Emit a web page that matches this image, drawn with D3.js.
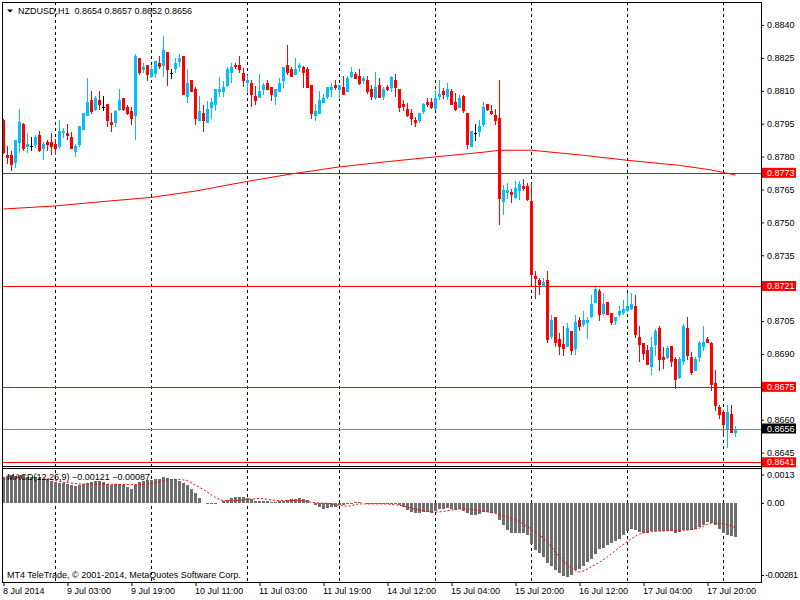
<!DOCTYPE html>
<html>
<head>
<meta charset="utf-8">
<script src="https://cdn.jsdelivr.net/npm/d3@7"></script>
<style>
  body { margin: 0; background: #fff; }
  text { font-family: "Liberation Sans", Arial, sans-serif; font-size: 9px; }
</style>
</head>
<body>
<svg width="800" height="600"></svg>
<script>
// NZDUSD H1, 8 Jul 2014 11:00 .. 18 Jul 2014 03:00
const opens = [
  0.87967,0.87807,0.87807,0.87772,0.87863,0.87949,0.87845,0.87848,0.87854,0.87898,
  0.87836,0.87866,0.87866,0.87857,0.87842,0.87906,0.87906,0.87891,0.87822,0.87851,
  0.87921,0.87985,0.88058,0.88012,0.88058,0.88025,0.88040,0.87959,0.87954,0.88012,
  0.88067,0.88025,0.88009,0.87985,0.88250,0.88195,0.88219,0.88164,0.88177,0.88228,
  0.88213,0.88277,0.88183,0.88198,0.88231,0.88259,0.88073,0.88149,0.88107,0.87964,
  0.88000,0.87954,0.88022,0.88037,0.88094,0.88094,0.88122,0.88183,0.88219,0.88219,
  0.88183,0.88134,0.88137,0.88076,0.88065,0.88102,0.88136,0.88117,0.88072,0.88096,
  0.88145,0.88218,0.88199,0.88172,0.88203,0.88208,0.88199,0.88126,0.87986,0.87996,
  0.88044,0.88072,0.88105,0.88126,0.88105,0.88117,0.88096,0.88163,0.88175,0.88166,
  0.88145,0.88148,0.88108,0.88066,0.88126,0.88072,0.88116,0.88113,0.88149,0.88110,
  0.88040,0.88018,0.88000,0.87967,0.87964,0.88003,0.88049,0.88049,0.88016,0.88070,
  0.88098,0.88073,0.88100,0.88049,0.88022,0.88076,0.88000,0.87845,0.87906,0.87912,
  0.87945,0.88040,0.88009,0.87991,0.87976,0.87593,0.87635,0.87639,0.87610,0.87644,
  0.87666,0.87666,0.87599,0.87255,0.87237,0.87204,0.87237,0.86976,0.87070,0.86970,
  0.86945,0.86933,0.87003,0.86924,0.87055,0.87033,0.87043,0.87067,0.87134,0.87188,
  0.87082,0.87137,0.87085,0.87052,0.87076,0.87085,0.87094,0.87104,0.87119,0.86976,
  0.86951,0.86918,0.86842,0.86942,0.87018,0.86887,0.86882,0.86936,0.86878,0.86790,
  0.86863,0.87018,0.86887,0.86824,0.86882,0.86933,0.86967,0.86949,0.86766,0.86659,
  0.86635,0.86559,0.86626,0.86540
];
const highs = [
  0.87971,0.87848,0.87827,0.87876,0.88017,0.87954,0.87906,0.87888,0.87900,0.87918,
  0.87868,0.87876,0.87906,0.87879,0.87967,0.87930,0.87949,0.87912,0.87857,0.87939,
  0.88000,0.88158,0.88098,0.88076,0.88098,0.88076,0.88040,0.87997,0.88012,0.88107,
  0.88067,0.88034,0.88025,0.88268,0.88250,0.88225,0.88219,0.88213,0.88237,0.88259,
  0.88350,0.88277,0.88198,0.88250,0.88268,0.88259,0.88198,0.88149,0.88119,0.88076,
  0.88037,0.88055,0.88067,0.88107,0.88164,0.88143,0.88210,0.88228,0.88228,0.88259,
  0.88204,0.88173,0.88149,0.88122,0.88177,0.88136,0.88148,0.88117,0.88108,0.88160,
  0.88208,0.88309,0.88208,0.88251,0.88227,0.88214,0.88208,0.88126,0.88038,0.88099,
  0.88084,0.88117,0.88136,0.88148,0.88126,0.88166,0.88166,0.88208,0.88184,0.88199,
  0.88169,0.88166,0.88126,0.88187,0.88160,0.88117,0.88125,0.88167,0.88177,0.88110,
  0.88058,0.88043,0.88018,0.87979,0.88000,0.88043,0.88067,0.88067,0.88104,0.88149,
  0.88113,0.88134,0.88107,0.88091,0.88082,0.88082,0.88000,0.87915,0.87949,0.87967,
  0.88049,0.88040,0.88037,0.88018,0.88149,0.87672,0.87678,0.87654,0.87690,0.87690,
  0.87696,0.87678,0.87678,0.87277,0.87246,0.87246,0.87280,0.87079,0.87070,0.86994,
  0.87027,0.87043,0.87003,0.87079,0.87070,0.87094,0.87067,0.87170,0.87207,0.87198,
  0.87177,0.87137,0.87085,0.87067,0.87119,0.87146,0.87177,0.87179,0.87167,0.87027,
  0.86951,0.86942,0.86976,0.87015,0.87027,0.86933,0.86936,0.86936,0.86887,0.86887,
  0.87037,0.87070,0.86909,0.86887,0.86958,0.87027,0.86979,0.86955,0.86827,0.86669,
  0.86644,0.86669,0.86669,0.86570
];
const lows = [
  0.87812,0.87766,0.87736,0.87748,0.87815,0.87824,0.87815,0.87824,0.87838,0.87821,
  0.87784,0.87824,0.87806,0.87809,0.87833,0.87885,0.87876,0.87835,0.87797,0.87842,
  0.87921,0.87985,0.87994,0.88007,0.88012,0.88007,0.87936,0.87913,0.87936,0.88009,
  0.88009,0.87988,0.87945,0.87876,0.88173,0.88180,0.88146,0.88157,0.88157,0.88201,
  0.88164,0.88122,0.88155,0.88183,0.88210,0.88082,0.88046,0.88094,0.87945,0.87964,
  0.87912,0.87954,0.87973,0.88007,0.88073,0.88073,0.88116,0.88134,0.88201,0.88180,
  0.88119,0.88091,0.88025,0.88034,0.88065,0.88081,0.88102,0.88053,0.88035,0.88093,
  0.88114,0.88172,0.88163,0.88172,0.88184,0.88111,0.88114,0.87971,0.87962,0.87996,
  0.88044,0.88063,0.88072,0.88102,0.88063,0.88081,0.88096,0.88157,0.88154,0.88126,
  0.88132,0.88084,0.88057,0.88057,0.88066,0.88057,0.88100,0.88094,0.88073,0.88003,
  0.88007,0.87982,0.87945,0.87936,0.87954,0.87994,0.88027,0.88016,0.88012,0.88058,
  0.88064,0.88058,0.88037,0.88007,0.88022,0.87997,0.87836,0.87845,0.87872,0.87891,
  0.87936,0.88007,0.87991,0.87945,0.87487,0.87535,0.87608,0.87587,0.87605,0.87602,
  0.87644,0.87596,0.87213,0.87152,0.87167,0.87204,0.86951,0.86967,0.86933,0.86894,
  0.86891,0.86933,0.86894,0.86894,0.87003,0.87024,0.86967,0.87064,0.87134,0.87052,
  0.87073,0.87076,0.87033,0.87033,0.87070,0.87076,0.87091,0.87100,0.86973,0.86863,
  0.86872,0.86848,0.86805,0.86891,0.86824,0.86833,0.86876,0.86842,0.86742,0.86787,
  0.86848,0.86872,0.86803,0.86821,0.86863,0.86915,0.86949,0.86732,0.86641,0.86605,
  0.86520,0.86471,0.86538,0.86520
];
const closes = [
  0.87815,0.87794,0.87763,0.87876,0.87958,0.87836,0.87857,0.87848,0.87888,0.87824,
  0.87857,0.87854,0.87845,0.87836,0.87918,0.87918,0.87894,0.87836,0.87848,0.87939,
  0.87997,0.88049,0.88003,0.88067,0.88035,0.88025,0.87964,0.87945,0.88007,0.88058,
  0.88012,0.87994,0.87973,0.88259,0.88183,0.88210,0.88173,0.88201,0.88237,0.88207,
  0.88286,0.88195,0.88183,0.88228,0.88250,0.88082,0.88134,0.88094,0.87973,0.88009,
  0.87964,0.88018,0.88049,0.88107,0.88107,0.88116,0.88201,0.88210,0.88207,0.88195,
  0.88146,0.88149,0.88082,0.88055,0.88101,0.88126,0.88105,0.88081,0.88108,0.88136,
  0.88208,0.88181,0.88163,0.88199,0.88218,0.88181,0.88114,0.87996,0.88008,0.88057,
  0.88066,0.88117,0.88117,0.88111,0.88126,0.88081,0.88157,0.88184,0.88154,0.88132,
  0.88160,0.88096,0.88072,0.88117,0.88066,0.88108,0.88104,0.88162,0.88113,0.88022,
  0.88025,0.87985,0.87970,0.87954,0.87997,0.88040,0.88037,0.88022,0.88067,0.88085,
  0.88082,0.88110,0.88037,0.88012,0.88067,0.88007,0.87854,0.87915,0.87906,0.87939,
  0.88027,0.88012,0.87994,0.87961,0.87605,0.87648,0.87648,0.87626,0.87657,0.87675,
  0.87654,0.87602,0.87261,0.87243,0.87216,0.87228,0.86964,0.87055,0.86951,0.86933,
  0.86924,0.87018,0.86915,0.87046,0.87024,0.87055,0.87055,0.87128,0.87198,0.87076,
  0.87128,0.87076,0.87043,0.87067,0.87094,0.87104,0.87119,0.87128,0.86986,0.86942,
  0.86900,0.86851,0.86933,0.87003,0.86872,0.86872,0.86927,0.86863,0.86781,0.86878,
  0.87027,0.86891,0.86815,0.86876,0.86949,0.86955,0.86951,0.86757,0.86663,0.86623,
  0.86575,0.86635,0.86541,0.86560
];

// moving average, read at some bars
const maBars = [0,13,23,37,48,61,72,84,96,108,120,124,132,145,156,169,177,183];
const maValues = [0.87561,0.87575,0.87592,0.87614,0.87643,0.87687,0.87721,0.87753,0.87777,
  0.87799,0.87820,0.87829,0.87829,0.87806,0.87783,0.87760,0.87739,0.87716];

// MACD(12,26,9) main (histogram)
const macdMain = [
  0.00093,0.00098,0.00100,0.00098,0.00102,0.00100,0.00095,0.00093,0.00093,0.00091,
  0.00088,0.00086,0.00081,0.00076,0.00074,0.00074,0.00071,0.00067,0.00062,0.00064,
  0.00069,0.00074,0.00076,0.00079,0.00079,0.00076,0.00071,0.00067,0.00069,0.00071,
  0.00067,0.00060,0.00052,0.00064,0.00076,0.00081,0.00083,0.00083,0.00086,0.00088,
  0.00093,0.00091,0.00088,0.00086,0.00081,0.00074,0.00064,0.00050,0.00036,0.00019,
  0.00002,-0.00001,-0.00002,-0.00001,0.00002,0.00007,0.00012,0.00019,0.00024,0.00024,
  0.00024,0.00019,0.00014,0.00010,0.00007,0.00007,0.00007,0.00005,0.00005,0.00007,
  0.00010,0.00012,0.00014,0.00017,0.00019,0.00017,0.00012,0.00002,-0.00007,-0.00014,
  -0.00019,-0.00017,-0.00014,-0.00012,-0.00007,-0.00005,-0.00002,0.00000,0.00005,0.00005,
  0.00002,0.00000,-0.00002,0.00000,-0.00002,-0.00002,-0.00002,-0.00002,-0.00002,-0.00005,
  -0.00012,-0.00024,-0.00031,-0.00036,-0.00036,-0.00031,-0.00031,-0.00033,-0.00029,-0.00021,
  -0.00019,-0.00017,-0.00019,-0.00024,-0.00021,-0.00026,-0.00036,-0.00043,-0.00043,-0.00038,
  -0.00031,-0.00031,-0.00033,-0.00036,-0.00060,-0.00079,-0.00095,-0.00105,-0.00107,-0.00107,
  -0.00107,-0.00114,-0.00145,-0.00167,-0.00179,-0.00191,-0.00212,-0.00224,-0.00238,-0.00250,
  -0.00260,-0.00262,-0.00257,-0.00238,-0.00233,-0.00224,-0.00210,-0.00198,-0.00181,-0.00164,
  -0.00160,-0.00150,-0.00143,-0.00136,-0.00126,-0.00114,-0.00100,-0.00093,-0.00095,-0.00102,
  -0.00105,-0.00105,-0.00100,-0.00098,-0.00098,-0.00100,-0.00100,-0.00100,-0.00105,-0.00102,
  -0.00095,-0.00095,-0.00095,-0.00091,-0.00083,-0.00076,-0.00067,-0.00069,-0.00079,-0.00093,
  -0.00105,-0.00112,-0.00117,-0.00121
];
// MACD signal, read at some bars
const sigBars = [0,8,16,20,24,32,36,40,43,46,48,49,51,53,55,58,61,64,69,74,78,81,86,89,94,99,
  104,108,112,115,119,122,126,129,132,136,139,142,144,147,151,154,156,159,162,166,171,174,177,181,183];
const sigValues = [0.00086,0.00093,0.00074,0.00069,0.00069,0.00067,0.00069,0.00081,0.00086,0.00081,
  0.00064,0.00057,0.00040,0.00021,0.00010,0.00010,0.00014,0.00017,0.00010,0.00010,
  0.00002,0.00000,-0.00010,-0.00002,-0.00002,-0.00007,-0.00024,-0.00031,-0.00024,-0.00019,
  -0.00026,-0.00033,-0.00050,-0.00066,-0.00093,-0.00138,-0.00191,-0.00232,-0.00245,-0.00226,
  -0.00191,-0.00157,-0.00136,-0.00110,-0.00101,-0.00098,-0.00095,-0.00088,-0.00071,-0.00076,-0.00087];

// horizontal levels
const levels = [0.87726, 0.87210, 0.86750, 0.86406];

// axes (0.8720 and 0.8675 sit under the level tags, so they are left out)
const priceTicks = [0.8840,0.8825,0.8810,0.8795,0.8780,0.8765,0.8750,0.8735,0.8705,0.8690,0.8660,0.8645];
const macdTicks = [0.0013, 0, -0.00281];
const macdTickLabels = ['0.0013', '0.00', '-0.00281'];
const daySepBars = [13, 37, 61, 84, 108, 132, 156, 180];
const timeBars = [0, 16, 32, 48, 64, 80, 96, 112, 128, 144, 160, 176];
const timeLabels = ['8 Jul 2014','9 Jul 03:00','9 Jul 19:00','10 Jul 11:00','11 Jul 03:00','11 Jul 19:00',
  '14 Jul 12:00','15 Jul 04:00','15 Jul 20:00','16 Jul 12:00','17 Jul 04:00','17 Jul 20:00'];

const svg = d3.select('svg');
const plotLeft = 2, plotRight = 761, plotTop = 2, mainBottom = 466, macdTop = 468, plotBottom = 582;

const x = d3.scaleLinear().domain([0, opens.length - 1]).range([3.5, 735.5]);
const y = d3.scaleLinear().domain([0.86389, 0.88505]).range([mainBottom, plotTop]);
const ym = d3.scaleLinear().domain([-0.00281, 0.0013]).range([plotBottom, 467]);

const bars = d3.range(opens.length);
const last = opens.length - 1;
const fmt = d3.format('.4f');
const colorOf = i => closes[i] > opens[i] ? '#00bfff' : (closes[i] < opens[i] ? '#ff0000' : '#000000');

// day separators
svg.append('g')
  .selectAll('line')
  .data(daySepBars)
  .join('line')
    .attr('x1', d => x(d)).attr('x2', d => x(d))
    .attr('y1', plotTop).attr('y2', plotBottom)
    .attr('stroke', '#000')
    .attr('stroke-dasharray', '3,3')
    .attr('shape-rendering', 'crispEdges');

// moving average
svg.append('path')
  .attr('d', d3.line().x(d => x(d)).y((d, k) => y(maValues[k]))(maBars))
  .attr('fill', 'none')
  .attr('stroke', '#ff0000')
  .attr('stroke-width', 1);

// levels
svg.append('g')
  .selectAll('line')
  .data(levels)
  .join('line')
    .attr('x1', plotLeft).attr('x2', plotRight)
    .attr('y1', d => Math.round(y(d)) + 0.5).attr('y2', d => Math.round(y(d)) + 0.5)
    .attr('stroke', '#ff0000');

// bid line
svg.append('line')
  .attr('x1', plotLeft).attr('x2', plotRight)
  .attr('y1', Math.round(y(closes[last])) + 0.5).attr('y2', Math.round(y(closes[last])) + 0.5)
  .attr('stroke', '#778899');

// candles
const candles = svg.append('g').attr('shape-rendering', 'crispEdges');
candles.selectAll('line')
  .data(bars)
  .join('line')
    .attr('x1', i => x(i)).attr('x2', i => x(i))
    .attr('y1', i => y(highs[i])).attr('y2', i => y(lows[i]))
    .attr('stroke', colorOf);
candles.selectAll('rect')
  .data(bars)
  .join('rect')
    .attr('x', i => x(i) - 1.5)
    .attr('width', 3)
    .attr('y', i => y(Math.max(opens[i], closes[i])))
    .attr('height', i => Math.max(1, Math.abs(y(opens[i]) - y(closes[i]))))
    .attr('fill', colorOf);

// macd histogram
svg.append('g')
  .attr('shape-rendering', 'crispEdges')
  .selectAll('rect')
  .data(bars)
  .join('rect')
    .attr('x', i => x(i) - 1.5)
    .attr('width', 3)
    .attr('y', i => Math.min(ym(0), ym(macdMain[i])))
    .attr('height', i => Math.max(0.5, Math.abs(ym(macdMain[i]) - ym(0))))
    .attr('fill', '#6e6e6e');

// macd signal
svg.append('path')
  .attr('d', d3.line().x(d => x(d)).y((d, k) => ym(sigValues[k])).curve(d3.curveMonotoneX)(sigBars))
  .attr('fill', 'none')
  .attr('stroke', '#ff0000')
  .attr('stroke-dasharray', '2,2');

// frame
const frame = svg.append('g')
  .attr('stroke', '#000')
  .attr('shape-rendering', 'crispEdges');
frame.append('rect')
  .attr('x', plotLeft).attr('y', plotTop)
  .attr('width', plotRight - plotLeft).attr('height', plotBottom - plotTop)
  .attr('fill', 'none');
frame.append('line').attr('x1', plotLeft).attr('x2', plotRight).attr('y1', mainBottom).attr('y2', mainBottom);
frame.append('line').attr('x1', plotLeft).attr('x2', plotRight).attr('y1', macdTop).attr('y2', macdTop);

// price axis
const priceAxis = svg.append('g')
  .attr('transform', `translate(${plotRight},0)`)
  .call(d3.axisRight(y).tickValues(priceTicks).tickFormat(fmt).tickSize(3).tickPadding(3));
priceAxis.select('.domain').remove();
priceAxis.selectAll('text')
  .attr('font-family', '"Liberation Sans", Arial, sans-serif')
  .attr('font-size', 9)
  .attr('fill', '#000');

// level labels
const tags = svg.append('g');
const tagData = levels.map(v => ({ v, bg: '#ff0000' })).concat([{ v: closes[last], bg: '#000000' }]);
tags.selectAll('rect')
  .data(tagData)
  .join('rect')
    .attr('x', plotRight + 1).attr('width', 34)
    .attr('y', d => y(d.v) - 5).attr('height', 10)
    .attr('fill', d => d.bg);
tags.selectAll('text')
  .data(tagData)
  .join('text')
    .attr('x', plotRight + 6)
    .attr('y', d => y(d.v))
    .attr('dy', '0.34em')
    .attr('fill', '#fff')
    .text(d => fmt(d.v));

// macd axis
const macdAxis = svg.append('g')
  .attr('transform', `translate(${plotRight},0)`)
  .call(d3.axisRight(ym).tickValues(macdTicks).tickFormat((d, k) => macdTickLabels[k]).tickSize(3).tickPadding(3));
macdAxis.select('.domain').remove();
macdAxis.selectAll('.tick')
  .attr('transform', (d, k) => `translate(0,${ym(d) + [8, 0, -6.5][k]})`);
macdAxis.selectAll('text')
  .attr('font-family', '"Liberation Sans", Arial, sans-serif')
  .attr('font-size', 9)
  .attr('fill', '#000')
  .attr('textLength', (d, k) => k === 2 ? 33 : null)
  .attr('x', (d, k) => k === 2 ? 4 : 6);

// time axis
const timeAxis = svg.append('g')
  .attr('transform', `translate(0,${plotBottom})`)
  .call(d3.axisBottom(x).tickValues(timeBars).tickFormat((d, k) => timeLabels[k]).tickSize(4).tickPadding(2));
timeAxis.select('.domain').remove();
timeAxis.selectAll('text')
  .attr('text-anchor', 'start')
  .attr('dx', -1)
  .attr('font-family', '"Liberation Sans", Arial, sans-serif')
  .attr('font-size', 9)
  .attr('fill', '#000');

// header
svg.append('path')
  .attr('d', 'M7,9.5 L13,9.5 L10,12.5 Z')
  .attr('fill', '#000');
svg.append('text')
  .attr('x', 18).attr('y', 14)
  .style('white-space', 'pre')
  .text(`NZDUSD,H1  ${fmt(opens[last])} ${fmt(highs[last])} ${fmt(lows[last])} ${fmt(closes[last])}`);

svg.append('text')
  .attr('x', 7).attr('y', 479.5)
  .text(`MACD(12,26,9) ${d3.format('.5f')(macdMain[last])} ${d3.format('.5f')(sigValues[sigValues.length - 1])}`);

svg.append('text')
  .attr('x', 7).attr('y', 578)
  .text('MT4 TeleTrade, \u00a9 2001-2014, MetaQuotes Software Corp.');
</script>
</body>
</html>
